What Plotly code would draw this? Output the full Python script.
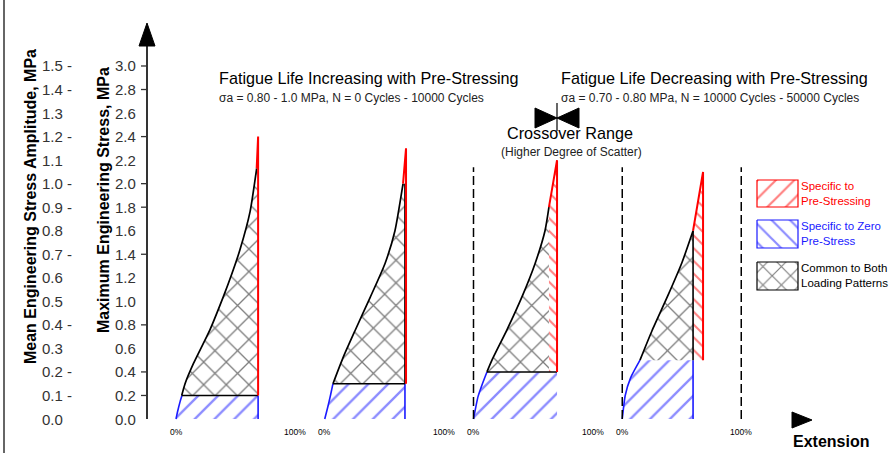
import plotly.graph_objects as go

# ---------------- data (extension in % of each panel, stress in MPa) ----------------
panel_names = ["Panel 1", "Panel 2", "Panel 3", "Panel 4"]

# initial branch specific to zero pre-stress (blue)
blue_x = [[0, 1.5, 3.5, 5.0], [0, 2.5, 4.8, 6.9], [0, 3.8, 7.5, 11.3], [0, 2.5, 7.0, 14.9]]
blue_y = [[0, 0.07, 0.15, 0.20], [0, 0.10, 0.20, 0.30], [0, 0.19, 0.30, 0.40], [0, 0.20, 0.35, 0.50]]

# branch common to both loading patterns (black)
black_x = [[4.8, 7.6, 14.6, 28.6, 39.8, 46.8, 53.8, 62.2, 67.8],
           [6.9, 15.3, 25.4, 38.0, 50.6, 59.0, 65.8],
           [11.3, 15.5, 28.2, 40.8, 51.7, 60.1, 63.4],
           [14.9, 25.0, 38.4, 50.2, 59.5]]
black_y = [[0.20, 0.30, 0.47, 0.76, 1.04, 1.23, 1.44, 1.76, 2.13],
           [0.30, 0.52, 0.75, 1.03, 1.32, 1.60, 2.00],
           [0.40, 0.50, 0.76, 1.04, 1.32, 1.60, 1.80],
           [0.50, 0.75, 1.05, 1.33, 1.60]]

base_stress = [0.20, 0.30, 0.40, 0.50]
common_edge_x = [69.0, 67.4, 63.4, 59.5]
blue_edge_x = [69.0, 67.4, 70.2, 59.5]
red_x = [69.0, 68.3, 70.2, 67.9]
red_top = [2.40, 2.30, 2.20, 2.10]
show_blue_edge = [True, True, False, True]
show_baseline = [True, True, True, False]
show_black_edge = [False, True, False, True]

# dashed guides: (panel index, extension %)
guide_panel = [2, 3, 3]
guide_pct = [0, 0, 100]
guide_top = 2.14

max_stress_ticks = [round(0.2 * i, 1) for i in range(16)]
amp_ticks = [round(0.1 * i, 1) for i in range(16)]
tick_marked = [False, True, True, False, True, False, False, True, False, True, True, False, True, False, True, True]
pct_ticks = [0, 100]
pct_labels = ["0%", "100%"]

# ---------------- layout constants ----------------
W, H = 896, 453
PANEL_STEP = 125          # extension units between panel origins
X0_PX, PX_PER_PCT = 176, 1.19
Y0_PX, PX_PER_MPA = 419, 117.67
FONT = "Liberation Sans, Arial, sans-serif"
RED, BLUE, BLACK = "#ff0000", "#1a1aff", "#000000"
CLEAR = "rgba(0,0,0,0)"

xr = [-X0_PX / PX_PER_PCT, (W - X0_PX) / PX_PER_PCT]
yr = [-(H - Y0_PX) / PX_PER_MPA, Y0_PX / PX_PER_MPA]


def X(i, p):
    return i * PANEL_STEP + p


fig = go.Figure()


def add_fill(xs, ys, shape, color, size, sol, xa="x", ya="y", outline=None):
    fig.add_trace(go.Scatter(
        x=xs, y=ys, xaxis=xa, yaxis=ya, mode="lines", fill="toself",
        fillcolor=CLEAR,
        fillpattern=dict(shape=shape, fgcolor=color, bgcolor=CLEAR, size=size, solidity=sol),
        line=dict(width=1.2 if outline else 0, color=outline or CLEAR),
        hoverinfo="skip", showlegend=False))


def add_line(xs, ys, color, width=1.6, dash="solid", xa="x", ya="y", smooth=False):
    fig.add_trace(go.Scatter(x=xs, y=ys, xaxis=xa, yaxis=ya, mode="lines",
                             line=dict(color=color, width=width, dash=dash,
                                       shape="spline" if smooth else "linear", smoothing=0.55),
                             hoverinfo="skip", showlegend=False))


for i in range(4):
    bx = [X(i, v) for v in blue_x[i]]
    kx = [X(i, v) for v in black_x[i]]
    b = base_stress[i]
    edge = X(i, common_edge_x[i])
    bedge = X(i, blue_edge_x[i])
    rx = X(i, red_x[i])
    ktop_x, ktop_y = kx[-1], black_y[i][-1]

    # fills
    add_fill(bx + [bedge, bedge], blue_y[i] + [b, 0], "/", BLUE, 14, 0.17)
    add_fill(kx + [edge, edge], black_y[i] + [ktop_y, b], "x", BLACK, 16, 0.16)
    if rx - edge > 2:
        add_fill([edge, rx, rx, ktop_x, edge], [b, b, red_top[i], ktop_y, ktop_y], "\\", RED, 9, 0.22)

    # outlines
    add_line(bx, blue_y[i], BLUE, smooth=True)
    if show_blue_edge[i]:
        add_line([bedge, bedge], [0, b], BLUE)
    add_line(kx, black_y[i], BLACK, width=1.7, smooth=True)
    if show_baseline[i]:
        add_line([kx[0], rx if i != 1 else edge], [b, b], BLACK)
    if show_black_edge[i]:
        add_line([edge, edge], [b, ktop_y], BLACK)
    add_line([ktop_x, rx, rx], [ktop_y, red_top[i], b], RED, width=2)

# dashed guide lines
for gp, gx in zip(guide_panel, guide_pct):
    add_line([X(gp, gx)] * 2, [0, guide_top], BLACK, width=1.5, dash="9px,4px")

# ---------------- legend boxes (pixel space) ----------------
leg_items = [("/", RED, 180, 207, ["Specific to", "Pre-Stressing"]),
             ("\\", BLUE, 220, 248, ["Specific to Zero", "Pre-Stress"]),
             ("x", BLACK, 262, 290, ["Common to Both", "Loading Patterns"])]
annotations = []
LEG_SIZE = 11.5
for shp, col, y0, y1, txt in leg_items:
    add_fill([757, 798, 798, 757, 757], [y0, y0, y1, y1, y0], shp, col, 13, 0.17, xa="x2", ya="y2", outline=col)
    for k, t in enumerate(txt):
        annotations.append(dict(x=799, y=y0 + 6 + 15 * k, xref="x2", yref="y2", text=t, showarrow=False,
                                xanchor="left", yanchor="middle", font=dict(size=LEG_SIZE, color=col, family=FONT)))

shapes = []
# left frame line
shapes.append(dict(type="line", xref="x2", yref="y2", x0=4, x1=4, y0=0, y1=H, line=dict(color="#333", width=1.5)))
# main vertical axis with arrow
shapes.append(dict(type="line", xref="x2", yref="y", x0=147, x1=147, y0=0, y1=(Y0_PX - 44) / PX_PER_MPA,
                   line=dict(color=BLACK, width=1.6)))
shapes.append(dict(type="path", xref="x2", yref="y2", path="M 139 46 L 147 23 L 155 46 Z",
                   fillcolor=BLACK, line=dict(color=BLACK, width=1)))
# extension arrow
shapes.append(dict(type="path", xref="x2", yref="y2", path="M 792 412 L 812 420 L 792 428 Z",
                   fillcolor=BLACK, line=dict(color=BLACK, width=1)))
# crossover bow-tie
shapes.append(dict(type="path", xref="x2", yref="y2", path="M 535 108 L 557 118 L 535 128 Z",
                   fillcolor=BLACK, line=dict(color=BLACK, width=1)))
shapes.append(dict(type="path", xref="x2", yref="y2", path="M 579 108 L 557 118 L 579 128 Z",
                   fillcolor=BLACK, line=dict(color=BLACK, width=1)))
shapes.append(dict(type="line", xref="x2", yref="y2", x0=557, x1=557, y0=103, y1=131, line=dict(color=BLACK, width=1.2)))

# y tick labels / marks
TICK_FONT = dict(size=15, color="#333", family=FONT)
for v, a, m in zip(max_stress_ticks, amp_ticks, tick_marked):
    annotations.append(dict(x=138, y=v, xref="x2", yref="y", text=f"{v:.1f}", showarrow=False,
                            xanchor="right", yanchor="middle", font=TICK_FONT))
    annotations.append(dict(x=40, y=a, xref="x2", yref="y3", text=f"{a:.1f}" + (" -" if m else ""),
                            showarrow=False, xanchor="left", yanchor="middle", font=TICK_FONT))
    if m:
        shapes.append(dict(type="line", xref="x2", yref="y", x0=141, x1=147, y0=v, y1=v,
                           line=dict(color="#333", width=1.3)))

# x tick labels (per panel)
for i in range(4):
    for p, lab in zip(pct_ticks, pct_labels):
        annotations.append(dict(x=X(i, p), y=432, xref="x", yref="y2", text=lab, showarrow=False,
                                xanchor="center", yanchor="middle", font=dict(size=8.5, color=BLACK, family=FONT)))

# axis titles
annotations.append(dict(x=30, y=207, xref="x2", yref="y2", text="<b>Mean Engineering Stress Amplitude, MPa</b>",
                        textangle=-90, showarrow=False, font=dict(size=16, color=BLACK, family=FONT)))
annotations.append(dict(x=103, y=200, xref="x2", yref="y2", text="<b>Maximum Engineering Stress, MPa</b>",
                        textangle=-90, showarrow=False, font=dict(size=16, color=BLACK, family=FONT)))
annotations.append(dict(x=791, y=441, xref="x2", yref="y2", text="<b>Extension</b>", xanchor="left",
                        showarrow=False, font=dict(size=16, color=BLACK, family=FONT)))

# titles
TF = dict(size=16.2, color=BLACK, family=FONT)
SF = dict(size=12, color="#222", family=FONT)
annotations += [
    dict(x=217, y=78, text="Fatigue Life Increasing with Pre-Stressing", xanchor="left", font=TF),
    dict(x=217, y=98, text="σa = 0.80 - 1.0 MPa, N = 0 Cycles - 10000 Cycles", xanchor="left", font=SF),
    dict(x=559, y=78, text="Fatigue Life Decreasing with Pre-Stressing", xanchor="left", font=TF),
    dict(x=559, y=98, text="σa = 0.70 - 0.80 MPa, N = 10000 Cycles - 50000 Cycles", xanchor="left", font=SF),
    dict(x=570, y=133, text="Crossover Range", xanchor="center", font=TF),
    dict(x=571, y=152, text="(Higher Degree of Scatter)", xanchor="center", font=SF),
]
for a in annotations:
    a.setdefault("xref", "x2")
    a.setdefault("yref", "y2")
    a.setdefault("showarrow", False)
    a.setdefault("yanchor", "middle")

fig.update_layout(
    width=W, height=H, autosize=False,
    margin=dict(l=0, r=0, t=0, b=0, pad=0),
    paper_bgcolor="white", plot_bgcolor="white",
    showlegend=False,
    xaxis=dict(range=xr, visible=False, domain=[0, 1], fixedrange=True),
    yaxis=dict(range=yr, visible=False, domain=[0, 1], fixedrange=True),
    xaxis2=dict(range=[0, W], visible=False, overlaying="x", fixedrange=True),
    yaxis2=dict(range=[H, 0], visible=False, overlaying="y", fixedrange=True),
    yaxis3=dict(range=[yr[0] / 2, yr[1] / 2], visible=False, overlaying="y", fixedrange=True),
    shapes=shapes, annotations=annotations,
)

fig.write_html("out.html", config={"displayModeBar": False})
